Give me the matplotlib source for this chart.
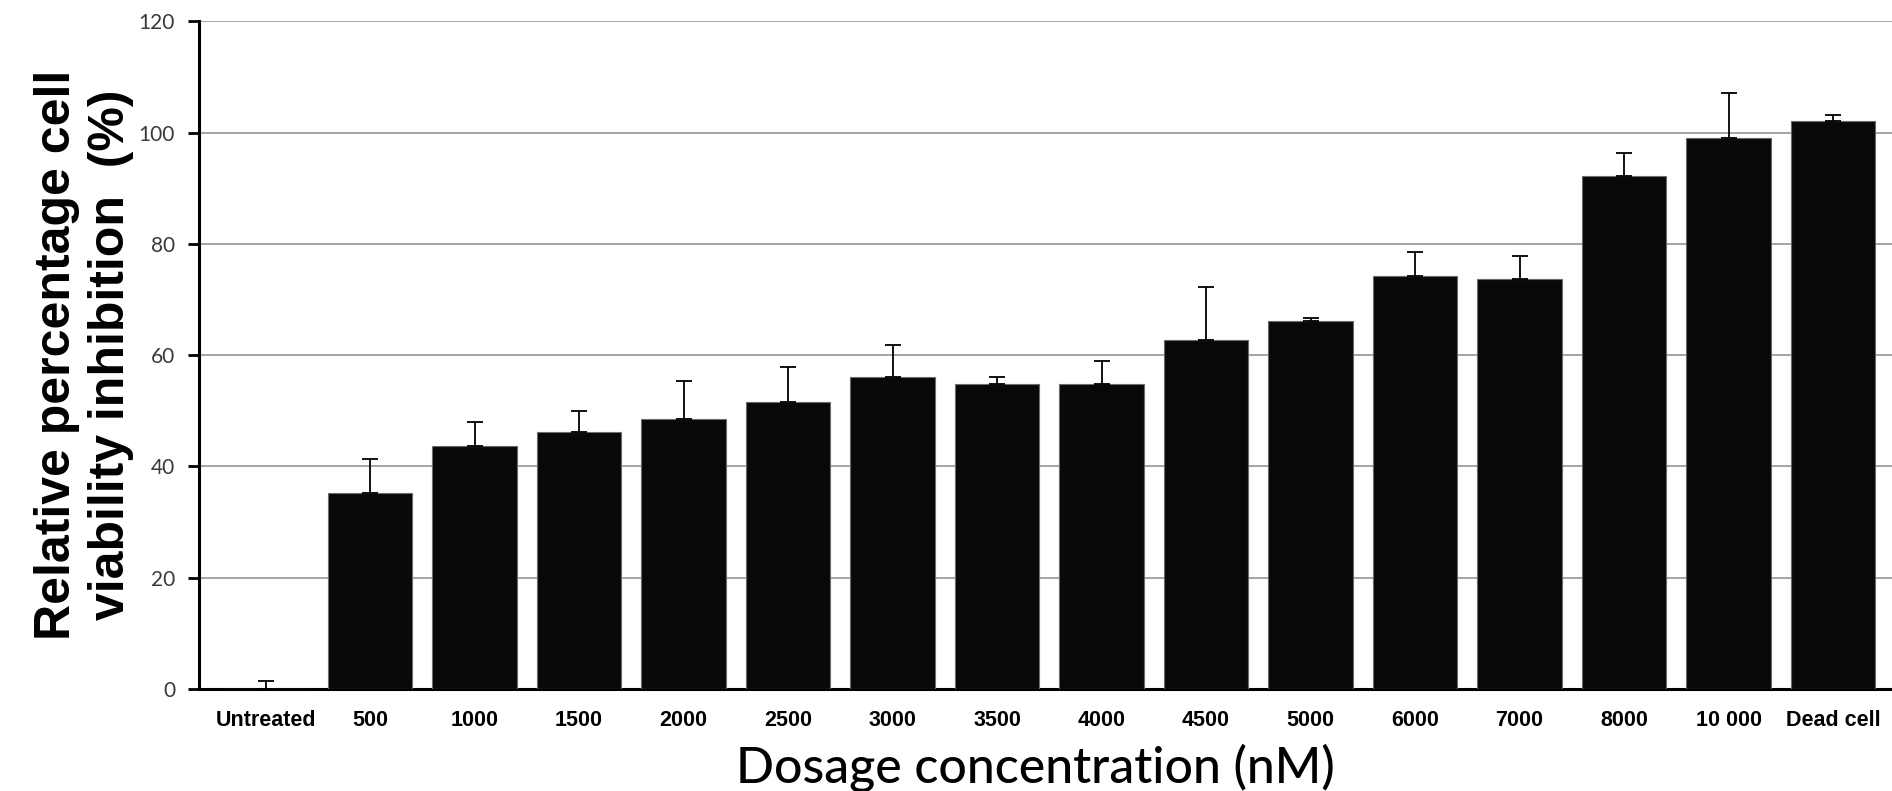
"""Cell viability inhibition bar chart"""

import matplotlib
matplotlib.use('Agg')
import matplotlib.pyplot as plt
import numpy as np

categories = ['Untreated', '500', '1000', '1500', '2000', '2500', '3000', '3500',
              '4000', '4500', '5000', '6000', '7000', '8000', '10 000', 'Dead cell']
inhibition = [0.0, 35.2, 43.6, 46.2, 48.6, 51.6, 56.0, 54.9,
              54.9, 62.7, 66.2, 74.2, 73.6, 92.2, 99.0, 102.0]
err_upper = [1.4, 6.2, 4.4, 3.7, 6.7, 6.3, 5.8, 1.1,
             4.1, 9.6, 0.4, 4.4, 4.3, 4.2, 8.2, 1.1]
y_ticks = [0, 20, 40, 60, 80, 100, 120]

fig = plt.figure(figsize=(18.92, 7.91), dpi=100)
ax = fig.add_axes([0.105, 0.129, 0.897, 0.844])

x = np.arange(len(categories))
ax.bar(x, inhibition, width=0.81, color='#080808', edgecolor='#6a6a6a',
       linewidth=0.8, zorder=3)
ax.errorbar(x, inhibition, yerr=[np.zeros(len(x)), err_upper], fmt='none',
            ecolor='black', elinewidth=1.3, capsize=6, capthick=1.3, zorder=4)

ax.set_ylim(0, 120)
ax.set_xlim(-0.64, 15.6)
ax.set_yticks(y_ticks)
ax.yaxis.grid(True, color='#8c8c8c', linewidth=1.1, zorder=0)
ax.set_axisbelow(True)

for s in ['top', 'right']:
    ax.spines[s].set_visible(False)
ax.spines['left'].set_linewidth(2.2)
ax.spines['bottom'].set_linewidth(2.2)

ax.tick_params(axis='y', length=8, width=2, pad=9, labelsize=15, labelcolor='#3a3a3a')
ax.tick_params(axis='x', length=0, pad=15)
for lab in ax.get_yticklabels():
    lab.set_family(['Lato', 'DejaVu Sans'])

ax.set_xticks(x)
ax.set_xticklabels(categories, fontsize=15.5, fontweight='bold',
                   family=['Liberation Sans', 'DejaVu Sans'])

ax.set_ylabel('Relative percentage cell\nviability inhibition  (%)', fontsize=36,
              fontweight='bold', family=['Liberation Sans', 'DejaVu Sans'],
              linespacing=1.22)
ax.yaxis.set_label_coords(-0.038, 0.5)
ax.set_xlabel('Dosage concentration (nM)', fontsize=36, fontweight='medium',
              family=['Lato', 'DejaVu Sans'])
ax.xaxis.set_label_coords(0.493, -0.082)

fig.savefig('out.png', dpi=100)
plt.close(fig)
